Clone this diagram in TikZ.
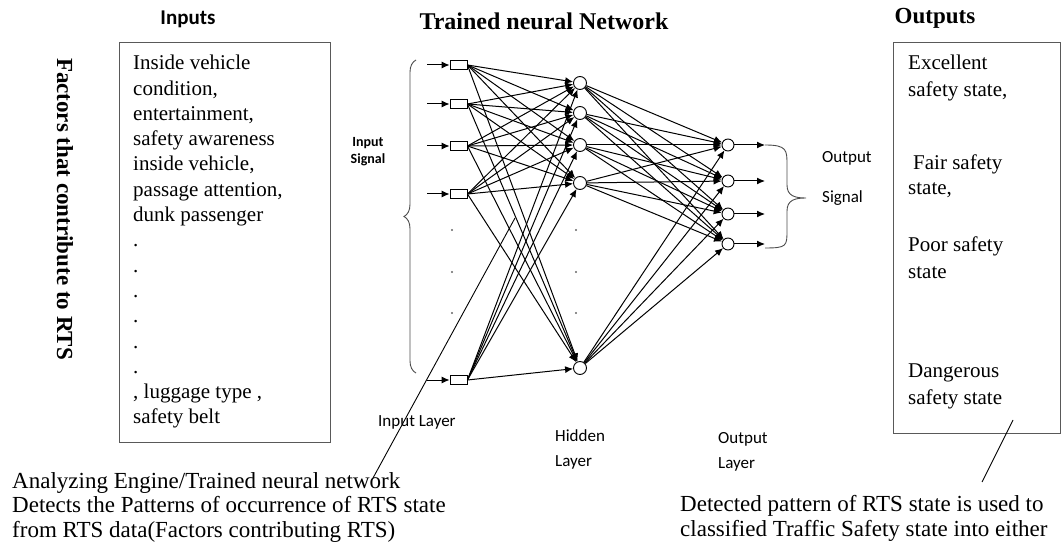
\documentclass[tikz,border=0pt]{standalone}
\usepackage{fontspec}
\setmainfont{Liberation Serif}
\setsansfont{Carlito}
\usetikzlibrary{arrows.meta,decorations.pathreplacing}

\tikzset{
  inbox/.style={draw, rectangle, minimum width=17pt, minimum height=9pt, inner sep=0pt, line width=0.9pt},
  neuron/.style={draw, circle, minimum size=13pt, inner sep=0pt, line width=0.9pt},
  syn/.style={-{Latex[length=8pt,width=7pt]}, line width=1pt},
  frame/.style={draw=black!65, line width=1.4pt, rectangle, inner sep=0pt, anchor=north west},
  boxtext/.style={anchor=north west, inner sep=0pt, align=left, font=\fontsize{21}{25.3}\selectfont},
  lbl/.style={anchor=base west, inner sep=0pt, font=\sffamily\fontsize{17}{20}\selectfont},
  gap/.style={circle, fill=black!60, inner sep=0pt, minimum size=2.2pt},
}

\begin{document}
\begin{tikzpicture}[x=1pt,y=-1pt]
\useasboundingbox (0,0) rectangle (1061,548);

\node[anchor=base, font=\sffamily\bfseries\fontsize{21}{24}\selectfont] (tin) at (188,25) {Inputs};
\node[anchor=base, font=\bfseries\fontsize{24}{26}\selectfont] (tnet) at (544,30) {Trained neural Network};
\node[anchor=base, font=\bfseries\fontsize{23}{26}\selectfont] (tout) at (935,24) {Outputs};
\node[rotate=-90, font=\bfseries\fontsize{23}{26}\selectfont] (factors) at (65,209) {Factors that contribute to RTS};

\node[frame, minimum width=211pt, minimum height=400pt] (inframe) at (119,42) {};
\node[boxtext] (intext) at (133,55) {Inside vehicle\\condition,\\entertainment,\\safety awareness\\inside vehicle,\\passage attention,\\dunk passenger\\.\\.\\.\\.\\.\\.\\, luggage type ,\\safety belt};

\node[frame, minimum width=167pt, minimum height=391pt] (outframe) at (893,42) {};
\node[boxtext, font=\fontsize{21}{27}\selectfont] (exc) at (908,55) {Excellent\\safety state,};
\node[boxtext, font=\fontsize{21}{27}\selectfont] (fair) at (913,155) {Fair safety};
\node[boxtext, font=\fontsize{21}{27}\selectfont] (fair2) at (908,182) {state,};
\node[boxtext, font=\fontsize{21}{27}\selectfont] (poor) at (908,237) {Poor safety\\state};
\node[boxtext, font=\fontsize{21}{27}\selectfont] (dang) at (908,364) {Dangerous\\safety state};

\foreach \n/\y in {1/65,2/104,3/146,4/194,5/380} {
  \node[inbox] (in\n) at (458.5,\y) {};
  \coordinate (src\n) at (427,\y);
  \draw[syn] (src\n) -- (in\n);
}
\foreach \n/\y in {1/83,2/113,3/145,4/183,5/368}
  \node[neuron] (hid\n) at (580,\y) {};
\foreach \n/\y in {1/145,2/181,3/214,4/244} {
  \node[neuron, minimum size=12pt] (out\n) at (728,\y) {};
  \coordinate (sig\n) at (765,\y);
  \draw[syn] (out\n) -- (sig\n);
}
\foreach \i in {1,...,5}
  \foreach \j in {1,...,5}
    \draw[syn] (in\i.east) -- (hid\j);
\foreach \j in {1,...,5}
  \foreach \k in {1,...,4}
    \draw[syn] (hid\j) -- (out\k);

\foreach \n/\y in {1/230,2/272,3/313} {
  \node[gap] (ind\n) at (452,\y) {};
  \node[gap] (hdd\n) at (576,\y) {};
}

\draw[decorate, decoration={brace, amplitude=12pt}, line width=0.9pt, black!70] (416,373) -- (416,60);
\draw[line width=0.9pt, black!70] (765,145) .. controls (787,145) and (787,150) .. (787,165) -- (787,185)
  .. controls (787,196) and (795,198) .. (806,198) .. controls (795,198) and (787,200) .. (787,211)
  -- (787,230) .. controls (787,246) and (787,248) .. (765,248);

\node[anchor=center, align=center, font=\sffamily\bfseries\fontsize{14}{17}\selectfont] (insig) at (368,152) {Input\\Signal};
\node[lbl] (outsig1) at (822,163) {Output};
\node[lbl] (outsig2) at (822,203) {Signal};
\node[lbl] (inlay) at (378,426) {Input Layer};
\node[lbl] (hidlay1) at (555,441) {Hidden};
\node[lbl] (hidlay2) at (555,466) {Layer};
\node[lbl] (outlay1) at (718,443) {Output};
\node[lbl] (outlay2) at (718,468) {Layer};

\node[anchor=north west, inner sep=0pt, align=left, font=\fontsize{23}{24.5}\selectfont] (engine) at (12,472) {Analyzing Engine/Trained neural network\\Detects the Patterns of occurrence of RTS state\\from RTS data(Factors contributing RTS)};
\node[anchor=north west, inner sep=0pt, align=left, font=\fontsize{23}{25}\selectfont] (detect) at (680,495) {Detected pattern of RTS state is used to\\classified Traffic Safety state into either};

\coordinate (eng1) at (373,478);
\coordinate (eng2) at (515,218);
\draw[line width=0.9pt] (eng1) -- (eng2);
\coordinate (det1) at (982,482);
\coordinate (det2) at (1013,420);
\draw[line width=0.9pt] (det1) -- (det2);
\end{tikzpicture}
\end{document}
